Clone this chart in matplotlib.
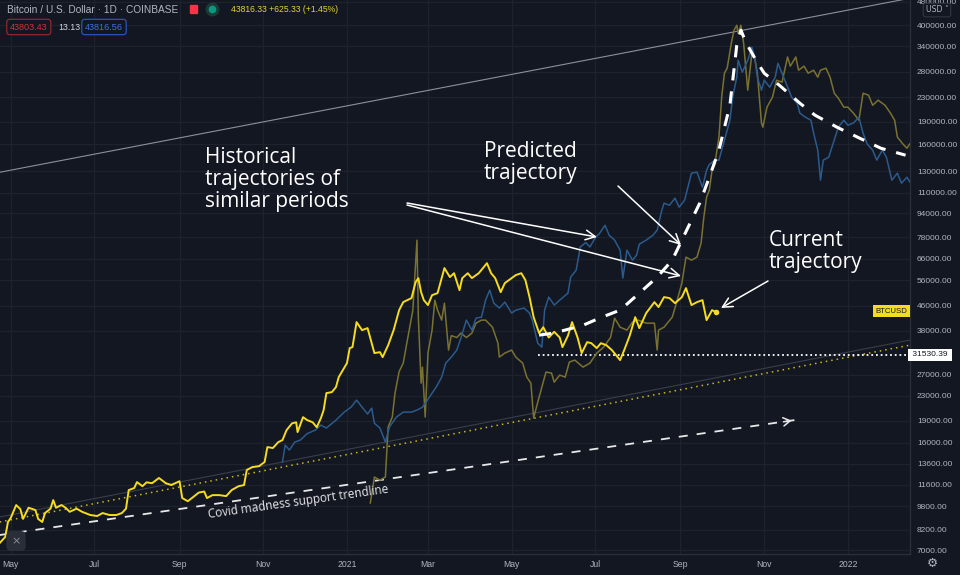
import pandas as pd
import matplotlib
matplotlib.use('Agg')
import matplotlib.pyplot as plt
import matplotlib.transforms as mtrans
from matplotlib.lines import Line2D
from matplotlib.patches import Rectangle
from matplotlib.ticker import FixedLocator, FixedFormatter, NullLocator

plt.rcParams['font.family'] = ['Liberation Sans', 'DejaVu Sans']

# -----------------------------
# data
# -----------------------------
btc_dates = [
    '2020-04-23', '2020-04-27', '2020-04-29', '2020-05-01', '2020-05-05', '2020-05-08', '2020-05-10',
    '2020-05-14', '2020-05-19', '2020-05-21', '2020-05-24', '2020-05-26', '2020-05-30', '2020-06-01',
    '2020-06-03', '2020-06-07', '2020-06-10', '2020-06-13', '2020-06-18', '2020-06-22', '2020-06-28',
    '2020-07-03', '2020-07-07', '2020-07-12', '2020-07-17', '2020-07-21', '2020-07-24', '2020-07-26',
    '2020-07-30', '2020-08-01', '2020-08-05', '2020-08-08', '2020-08-12', '2020-08-17', '2020-08-22',
    '2020-08-26', '2020-09-01', '2020-09-03', '2020-09-07', '2020-09-10', '2020-09-15', '2020-09-19',
    '2020-09-21', '2020-09-25', '2020-09-30', '2020-10-05', '2020-10-09', '2020-10-14', '2020-10-18',
    '2020-10-20', '2020-10-24', '2020-10-29', '2020-11-02', '2020-11-04', '2020-11-08', '2020-11-12',
    '2020-11-15', '2020-11-18', '2020-11-22', '2020-11-25', '2020-11-26', '2020-11-30', '2020-12-03',
    '2020-12-07', '2020-12-10', '2020-12-13', '2020-12-15', '2020-12-17', '2020-12-21', '2020-12-24',
    '2020-12-26', '2021-01-01', '2021-01-03', '2021-01-05', '2021-01-08', '2021-01-12', '2021-01-16',
    '2021-01-18', '2021-01-21', '2021-01-25', '2021-01-27', '2021-01-31', '2021-02-04', '2021-02-08',
    '2021-02-11', '2021-02-17', '2021-02-20', '2021-02-22', '2021-02-24', '2021-02-26', '2021-03-01',
    '2021-03-04', '2021-03-08', '2021-03-11', '2021-03-13', '2021-03-17', '2021-03-20', '2021-03-24',
    '2021-03-26', '2021-03-30', '2021-04-02', '2021-04-07', '2021-04-13', '2021-04-16', '2021-04-19',
    '2021-04-23', '2021-04-26', '2021-05-01', '2021-05-04', '2021-05-08', '2021-05-11', '2021-05-14',
    '2021-05-17', '2021-05-21', '2021-05-24', '2021-05-28', '2021-06-01', '2021-06-05', '2021-06-07',
    '2021-06-11', '2021-06-14', '2021-06-18', '2021-06-21', '2021-06-25', '2021-06-28', '2021-07-02',
    '2021-07-05', '2021-07-09', '2021-07-13', '2021-07-19', '2021-07-22', '2021-07-26', '2021-07-30',
    '2021-08-02', '2021-08-07', '2021-08-13', '2021-08-16', '2021-08-20', '2021-08-24', '2021-08-28',
    '2021-09-02', '2021-09-05', '2021-09-09', '2021-09-13', '2021-09-17', '2021-09-20', '2021-09-24',
    '2021-09-27',
]
btc_prices = [
    7390, 7740, 8690, 8960, 9900, 9600, 8900,
    9700, 9530, 8900, 8690, 9310, 9630, 10290,
    9700, 9900, 9700, 9400, 9630, 9400, 9170,
    9100, 9310, 9170, 9170, 9310, 9630, 11115,
    11290, 11820, 11450, 11800, 11720, 12200, 11720,
    11550, 11900, 10450, 10200, 10450, 10900, 10990,
    10450, 10690, 10690, 10610, 11115, 11450, 11550,
    12970, 13270, 13370, 13800, 15480, 15370, 16090,
    16340, 17650, 18590, 18740, 17380, 19500, 19060,
    18740, 18040, 19360, 20590, 23470, 23650, 24590,
    26550, 29580, 33200, 33460, 40570, 38140, 38740,
    35860, 31950, 32190, 30970, 33960, 38140, 44500,
    47330, 48820, 55200, 56950, 51120, 48060, 46270,
    49940, 50720, 56950, 61530, 57400, 59150, 51900,
    56950, 59150, 56950, 59150, 63900, 59150, 56950,
    51120, 54800, 56950, 58300, 59150, 56070, 49200,
    42150, 37270, 39000, 36020, 37650, 36020, 33450,
    36550, 40570, 36020, 31950, 34770, 34490, 33200,
    34490, 33960, 32700, 30270, 32700, 36550, 42150,
    38740, 43500, 47330, 45570, 49200, 48820, 46950,
    49200, 52730, 46270, 47330, 48060, 41200, 44500,
    43800,
]

blue_dates = [
    '2020-11-15', '2020-11-17', '2020-11-20', '2020-11-24', '2020-11-28', '2020-12-03', '2020-12-09',
    '2020-12-13', '2020-12-17', '2020-12-24', '2020-12-30', '2021-01-04', '2021-01-08', '2021-01-12',
    '2021-01-16', '2021-01-19', '2021-01-21', '2021-01-25', '2021-01-29', '2021-02-01', '2021-02-06',
    '2021-02-11', '2021-02-17', '2021-02-21', '2021-02-25', '2021-03-02', '2021-03-07', '2021-03-11',
    '2021-03-14', '2021-03-18', '2021-03-22', '2021-03-25', '2021-03-29', '2021-04-02', '2021-04-05',
    '2021-04-09', '2021-04-12', '2021-04-15', '2021-04-18', '2021-04-22', '2021-04-26', '2021-05-01',
    '2021-05-04', '2021-05-10', '2021-05-14', '2021-05-16', '2021-05-20', '2021-05-23', '2021-05-25',
    '2021-05-28', '2021-06-01', '2021-06-05', '2021-06-11', '2021-06-13', '2021-06-17', '2021-06-20',
    '2021-06-24', '2021-06-27', '2021-07-01', '2021-07-04', '2021-07-08', '2021-07-11', '2021-07-15',
    '2021-07-19', '2021-07-21', '2021-07-24', '2021-07-28', '2021-07-31', '2021-08-02', '2021-08-07',
    '2021-08-12', '2021-08-15', '2021-08-18', '2021-08-20', '2021-08-24', '2021-08-28', '2021-08-31',
    '2021-09-04', '2021-09-09', '2021-09-13', '2021-09-17', '2021-09-20', '2021-09-22', '2021-09-26',
    '2021-09-29', '2021-10-03', '2021-10-07', '2021-10-09', '2021-10-12', '2021-10-13', '2021-10-16',
    '2021-10-20', '2021-10-23', '2021-10-25', '2021-10-27', '2021-10-30', '2021-11-01', '2021-11-05',
    '2021-11-09', '2021-11-11', '2021-11-14', '2021-11-18', '2021-11-21', '2021-11-25', '2021-11-27',
    '2021-12-01', '2021-12-05', '2021-12-07', '2021-12-10', '2021-12-12', '2021-12-14', '2021-12-18',
    '2021-12-22', '2021-12-25', '2021-12-29', '2022-01-01', '2022-01-05', '2022-01-09', '2022-01-12',
    '2022-01-15', '2022-01-19', '2022-01-22', '2022-01-26', '2022-01-29', '2022-02-02', '2022-02-06',
    '2022-02-09', '2022-02-13', '2022-02-15',
]
blue_prices = [
    13800, 15720, 15130, 16090, 16340, 17170, 17650,
    18340, 17930, 19060, 20270, 21060, 22240, 21060,
    19980, 20910, 18600, 17930, 16090, 18090, 19510,
    20270, 20270, 20590, 21060, 22740, 24570, 26550,
    29600, 30980, 32700, 35860, 41200, 38140, 41840,
    42150, 48060, 51900, 46950, 45220, 47330, 43500,
    44500, 45220, 43500, 41200, 34490, 33450, 44500,
    49200, 46270, 48060, 50720, 57400, 60570, 72400,
    74900, 72400, 77900, 80350, 85600, 79300, 76320,
    70660, 56950, 70660, 65420, 67980, 74000, 76320,
    79320, 82430, 94690, 101500, 99900, 105500, 98400,
    103875, 127900, 128900, 114800, 130900, 136700, 141400,
    141400, 164900, 192400, 229700, 268000, 305500, 278500,
    305500, 337700, 313300, 268000, 242500, 261900, 248200,
    268000, 298200, 276000, 248200, 229700, 219300, 203100,
    196900, 192400, 174100, 152700, 121200, 141400, 144700,
    164900, 182300, 192400, 185000, 188400, 196900, 174100,
    160200, 152700, 141400, 152700, 144700, 121200, 127900,
    118400, 124000, 119700,
]

olive_dates = [
    '2021-01-18', '2021-01-21', '2021-01-25', '2021-01-29', '2021-01-31', '2021-02-03', '2021-02-05',
    '2021-02-08', '2021-02-11', '2021-02-14', '2021-02-18', '2021-02-21', '2021-02-22', '2021-02-24',
    '2021-02-25', '2021-02-27', '2021-03-01', '2021-03-04', '2021-03-06', '2021-03-08', '2021-03-11',
    '2021-03-13', '2021-03-16', '2021-03-18', '2021-03-22', '2021-03-25', '2021-03-29', '2021-04-02',
    '2021-04-05', '2021-04-09', '2021-04-12', '2021-04-17', '2021-04-21', '2021-04-22', '2021-04-26',
    '2021-05-01', '2021-05-04', '2021-05-09', '2021-05-12', '2021-05-15', '2021-05-17', '2021-05-20',
    '2021-05-23', '2021-05-26', '2021-05-30', '2021-06-01', '2021-06-05', '2021-06-09', '2021-06-12',
    '2021-06-16', '2021-06-22', '2021-06-27', '2021-07-02', '2021-07-07', '2021-07-12', '2021-07-15',
    '2021-07-19', '2021-07-24', '2021-07-28', '2021-08-01', '2021-08-07', '2021-08-13', '2021-08-15',
    '2021-08-16', '2021-08-20', '2021-08-26', '2021-08-29', '2021-09-02', '2021-09-05', '2021-09-09',
    '2021-09-13', '2021-09-16', '2021-09-18', '2021-09-20', '2021-09-22', '2021-09-24', '2021-09-26',
    '2021-09-29', '2021-10-01', '2021-10-03', '2021-10-05', '2021-10-08', '2021-10-10', '2021-10-12',
    '2021-10-13', '2021-10-15', '2021-10-17', '2021-10-20', '2021-10-23', '2021-10-25', '2021-10-27',
    '2021-10-30', '2021-10-31', '2021-11-03', '2021-11-07', '2021-11-10', '2021-11-14', '2021-11-18',
    '2021-11-20', '2021-11-24', '2021-11-26', '2021-11-30', '2021-12-03', '2021-12-07', '2021-12-10',
    '2021-12-12', '2021-12-16', '2021-12-19', '2021-12-22', '2021-12-25', '2021-12-29', '2022-01-01',
    '2022-01-05', '2022-01-09', '2022-01-12', '2022-01-16', '2022-01-19', '2022-01-23', '2022-01-28',
    '2022-02-01', '2022-02-04', '2022-02-06', '2022-02-10', '2022-02-13', '2022-02-15',
]
olive_prices = [
    10060, 12290, 12000, 12290, 18080, 19510, 23470,
    27700, 29580, 35310, 44500, 76320, 42170, 25350,
    28680, 19510, 31950, 38140, 48060, 44500, 41200,
    46950, 32700, 36550, 36020, 37270, 36020, 37270,
    40240, 41200, 41200, 39010, 34490, 30980, 31950,
    32700, 30980, 29580, 26550, 25350, 19360, 21890,
    24590, 27600, 27400, 25540, 26970, 26550, 29810,
    30270, 28680, 29580, 31950, 33450, 36020, 41840,
    39010, 38140, 40570, 41200, 40240, 40240, 32700,
    38140, 39010, 42150, 46950, 54800, 66950, 65420,
    66950, 74600, 91120, 106300, 112200, 130900, 136700,
    168800, 229700, 276400, 287300, 348000, 385000, 400000,
    376000, 400000, 348000, 242500, 322500, 313300, 276400,
    188000, 182300, 212700, 229700, 261900, 258000, 313300,
    291800, 313300, 282900, 291800, 276400, 282900, 268000,
    282900, 287300, 268000, 236900, 228000, 212700, 212700,
    203100, 192400, 236900, 233300, 215900, 224500, 215900,
    203100, 192400, 169000, 160200, 155000, 160200,
]

# 預測路徑（白色虛線）
pred_dates = [
    '2021-05-21', '2021-06-01', '2021-06-22', '2021-07-04', '2021-07-19', '2021-08-02', '2021-08-15',
    '2021-08-26', '2021-09-02', '2021-09-15', '2021-09-22', '2021-09-29', '2021-10-07', '2021-10-12',
    '2021-10-15', '2021-10-19', '2021-10-26', '2021-11-01', '2021-11-12', '2021-11-27', '2021-12-08',
    '2021-12-24', '2022-01-08', '2022-01-25', '2022-02-12',
]
pred_prices = [
    36700, 37300, 39600, 41840, 44500, 50720, 57400,
    65420, 76320, 101500, 124000, 152700, 216000, 343000,
    385000, 348000, 305500, 276400, 252000, 219300, 200000,
    182300, 168800, 155000, 146900,
]

# trend lines (two end points each)
upper_dates, upper_prices = ['2020-04-23', '2022-02-15'], [128800, 492400]
gray_sup_dates, gray_sup_prices = ['2020-04-23', '2022-02-15'], [9030, 35310]
dot_sup_dates, dot_sup_prices = ['2020-04-23', '2022-02-15'], [8690, 33960]
covid_dates, covid_prices = ['2020-04-23', '2021-11-23'], [7860, 19060]
level_dates, level_price = ['2021-05-20', '2022-02-15'], 31530.39

y_ticks = [7000, 8200, 9800, 11600, 13600, 16000, 19000, 23000, 27000, 38000, 46000,
           56000, 66000, 78000, 94000, 110000, 130000, 160000, 190000, 230000, 280000,
           340000, 400000, 480000]
x_tick_dates = ['2020-05-01', '2020-07-01', '2020-09-01', '2020-11-01', '2021-01-01', '2021-03-01',
                '2021-05-01', '2021-07-01', '2021-09-01', '2021-11-01', '2022-01-01']
x_tick_labels = ['May', 'Jul', 'Sep', 'Nov', '2021', 'Mar', 'May', 'Jul', 'Sep', 'Nov', '2022']

# -----------------------------
# colours
# -----------------------------
BG = '#131722'
GRID = '#1e222d'
AXIS_TXT = '#b2b5be'
YELLOW = '#f5dc1e'
OLIVE = '#7a7230'
BLUE = '#2b5a8c'
ANN_FONT = ['Open Sans', 'DejaVu Sans']

d = pd.to_datetime

fig = plt.figure(figsize=(9.6, 5.75), dpi=100, facecolor=BG)
ax = fig.add_axes([0, 21 / 575, 910 / 960, 554 / 575])
ax.set_facecolor(BG)

ax.set_yscale('log')
ax.set_ylim(6790, 486000)
ax.set_xlim(pd.Timestamp('2020-04-23 05:00'), pd.Timestamp('2022-02-15 05:00'))

ax.yaxis.set_major_locator(FixedLocator(y_ticks))
ax.yaxis.set_major_formatter(FixedFormatter([f'{v:.2f}' for v in y_ticks]))
ax.yaxis.set_minor_locator(NullLocator())
ax.yaxis.tick_right()
ax.set_xticks(d(x_tick_dates))
ax.set_xticklabels(x_tick_labels)
ax.tick_params(axis='y', length=0, pad=5, labelsize=6.0, colors=AXIS_TXT)
ax.tick_params(axis='x', length=0, pad=4, labelsize=6.2, colors=AXIS_TXT)
ax.grid(True, color=GRID, lw=0.9, zorder=0)
for s in ['top', 'left']:
    ax.spines[s].set_visible(False)
for s in ['right', 'bottom']:
    ax.spines[s].set_color('#2a2e39')
    ax.spines[s].set_linewidth(1)

# trend lines
ax.plot(d(upper_dates), upper_prices, color='#8d909a', lw=0.8, zorder=2)
ax.plot(d(gray_sup_dates), gray_sup_prices, color='#3a3e4a', lw=0.8, zorder=2)
ax.plot(d(dot_sup_dates), dot_sup_prices, color='#c9b81c', lw=1.1, ls=(0, (1, 2.6)), zorder=2)
ax.plot(d(covid_dates), covid_prices, color='#e8e8ea', lw=1.3, ls=(0, (5, 5)), zorder=2)
ax.annotate('', xy=(d(covid_dates[1]), covid_prices[1]),
            xytext=(d('2021-11-13'), 18750),
            arrowprops=dict(arrowstyle='->,head_length=0.5,head_width=0.3', color='#e8e8ea', lw=1.1))
ax.plot(d(level_dates), [level_price, level_price], color='white', lw=1.3, ls=(0, (1, 1.6)), zorder=2)

# price lines
ax.plot(d(olive_dates), olive_prices, color=OLIVE, lw=1.1, zorder=3)
ax.plot(d(blue_dates), blue_prices, color=BLUE, lw=1.1, zorder=4)
ax.plot(d(btc_dates), btc_prices, color=YELLOW, lw=1.4, zorder=5)
ax.plot(d(btc_dates[-1:]), btc_prices[-1:], 'o', color=YELLOW, ms=3, zorder=5)
ax.plot(d(pred_dates), pred_prices, color='white', lw=2.2, ls=(0, (4, 3.6)), zorder=6)

# annotations
txt = dict(color='white', fontsize=15, family=ANN_FONT, va='top', ha='left',
           linespacing=1.05, transform=ax.transAxes)
ax.text(205 / 910, 1 - 147 / 554, 'Historical\ntrajectories of\nsimilar periods', **txt)
ax.text(484 / 910, 1 - 141 / 554, 'Predicted\ntrajectory', **txt)
ax.text(769 / 910, 1 - 230 / 554, 'Current\ntrajectory', **txt)
ax.text(298 / 910, 1 - 502 / 554, 'Covid madness support trendline', color='#e8e8ea', fontsize=8.5,
        family=ANN_FONT, rotation=8, ha='center', va='center', transform=ax.transAxes)

arrow = dict(arrowstyle='->,head_length=0.7,head_width=0.35', color='white', lw=1.1, shrinkA=0, shrinkB=0)
arrows = [((407, 203), (597, 237)), ((407, 205), (681, 276)),
          ((618, 186), (681, 245)), ((768, 281), (721, 308))]
for (x0, y0), (x1, y1) in arrows:
    ax.annotate('', xy=(x1 / 910, 1 - y1 / 554), xytext=(x0 / 910, 1 - y0 / 554),
                xycoords='axes fraction', textcoords='axes fraction', arrowprops=arrow, zorder=7)

# price labels on the right
blend = mtrans.blended_transform_factory(ax.transAxes, ax.transData)
ax.text(0.997, 44200, 'BTCUSD', transform=blend, ha='right', va='center', fontsize=5.6,
        color=BG, bbox=dict(boxstyle='square,pad=0.35', fc=YELLOW, ec='none'), zorder=8)
ax.text(1.0, level_price, ' 31530.39 ', transform=blend, ha='left', va='center', fontsize=6.0,
        color='#131722', bbox=dict(boxstyle='square,pad=0.3', fc='white', ec='none'),
        clip_on=False, zorder=8)

# header
fig.text(7 / 960, 1 - 10 / 575, 'Bitcoin / U.S. Dollar · 1D · COINBASE', color=AXIS_TXT,
         fontsize=7.3, va='center')
fig.add_artist(Rectangle((190 / 960, 1 - 13 / 575), 7 / 960, 8 / 575, color='#f23645',
                         transform=fig.transFigure))
fig.add_artist(Line2D([212 / 960], [1 - 9 / 575], marker='o', ms=9, color='#1c3a36',
                      transform=fig.transFigure))
fig.add_artist(Line2D([212 / 960], [1 - 9 / 575], marker='o', ms=4.5, color='#089981',
                      transform=fig.transFigure))
fig.text(231 / 960, 1 - 10 / 575, '43816.33 +625.33 (+1.45%)', color='#e3d23c',
         fontsize=6.2, va='center')
fig.text(10 / 960, 1 - 27 / 575, '43803.43', color='#c9363e', fontsize=6.6, va='center',
         bbox=dict(boxstyle='round,pad=0.35', fc=BG, ec='#9c2a30', lw=0.8))
fig.text(58 / 960, 1 - 27 / 575, '13.13', color='#d1d4dc', fontsize=6.3, va='center')
fig.text(85 / 960, 1 - 27 / 575, '43816.56', color='#3d6fe0', fontsize=6.6, va='center',
         bbox=dict(boxstyle='round,pad=0.35', fc=BG, ec='#2c5bd0', lw=0.8))

# small ui bits
fig.text(937 / 960, 1 - 10 / 575, 'USD ˅', color=AXIS_TXT, fontsize=5.6, ha='center', va='center',
         family=['DejaVu Sans'],
         bbox=dict(boxstyle='round,pad=0.3', fc=BG, ec='#363a45', lw=0.7))
fig.text(932 / 960, 1 - 563 / 575, '⚙', color=AXIS_TXT, fontsize=9, ha='center', va='center',
         family=['DejaVu Sans'])
fig.text(16 / 960, 1 - 541 / 575, '×', color='#8a8e99', fontsize=8, ha='center', va='center',
         family=['DejaVu Sans'],
         bbox=dict(boxstyle='round,pad=0.45', fc='#2a2e39', ec='none'))

fig.savefig('out.png', dpi=100, facecolor=BG)
